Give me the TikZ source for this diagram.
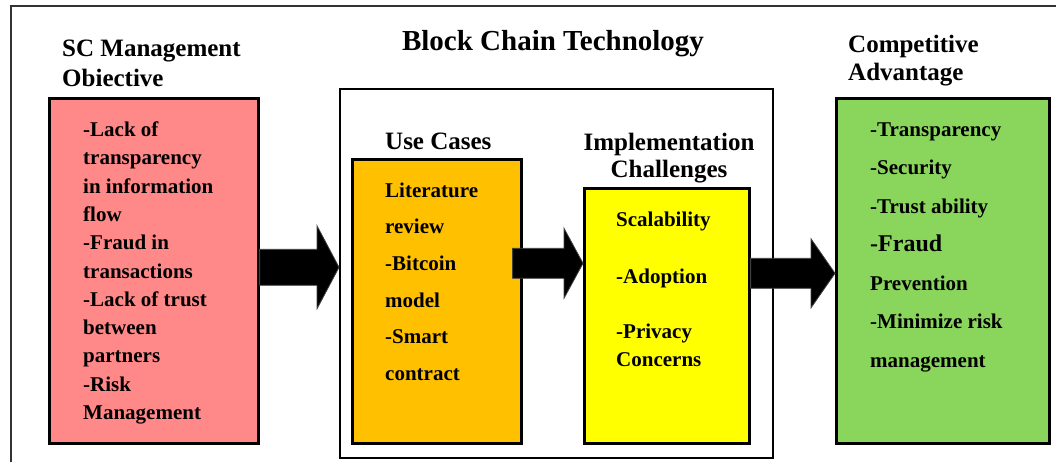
\documentclass[tikz,border=0pt]{standalone}
\usepackage{fontspec}
\setmainfont{Liberation Serif}
\usetikzlibrary{calc}
\definecolor{pinkc}{RGB}{255,136,136}
\definecolor{orangec}{RGB}{255,192,0}
\definecolor{yellowc}{RGB}{255,255,0}
\definecolor{greenc}{RGB}{138,214,92}
\tikzset{
  panel/.style={draw=black, line width=2.6pt, anchor=north west, inner sep=0pt},
  heading/.style={font=\fontsize{25}{30}\selectfont\bfseries, inner sep=0pt, align=left, anchor=base west},
  body/.style={font=\fontsize{21}{28.3}\selectfont\bfseries, inner sep=0pt, align=left, anchor=base west},
  arrowfill/.style={fill=black, draw=black!75, line width=0.8pt, line join=miter}
}
\newcommand{\fatarrow}[5]{%
  \filldraw[arrowfill] ($(#1)+(0,-#3)$) -- ($(#2)+(-#5,-#3)$) -- ($(#2)+(-#5,-#4)$) -- (#2)
    -- ($(#2)+(-#5,#4)$) -- ($(#2)+(-#5,#3)$) -- ($(#1)+(0,#3)$) -- cycle;}
\begin{document}
\begin{tikzpicture}[x=1pt,y=-1pt]
\useasboundingbox (0,0) rectangle (1056,462);
% outer frame (only top and left edges visible)
\draw[line width=2pt, black!80] (1056,6) -- (11,6) -- (11,462);

% boxes
\node[panel, fill=pinkc, minimum width=209pt, minimum height=345pt] (sc) at (48,97) {};
\node[panel, line width=2pt, minimum width=433pt, minimum height=369pt] (bc) at (339,88) {};
\node[panel, fill=orangec, minimum width=169pt, minimum height=284pt] (uc) at (351,158) {};
\node[panel, fill=yellowc, minimum width=165pt, minimum height=255pt] (ic) at (583,187) {};
\node[panel, fill=greenc, minimum width=213pt, minimum height=345pt] (ca) at (835,97) {};

% headings (base anchor = baseline of the last line)
\node[heading, font=\fontsize{25}{30}\selectfont\bfseries] (tsc) at (62,87) {SC Management\\Obiective};
\node[heading, font=\fontsize{29}{34}\selectfont\bfseries, anchor=base] (tbc) at (553,51) {Block Chain Technology};
\node[heading, font=\fontsize{25}{28}\selectfont\bfseries] (tca) at (848,81) {Competitive\\Advantage};
\node[heading] (tuc) at (385,150) {Use Cases};
\node[heading, font=\fontsize{25}{27}\selectfont\bfseries, align=center, anchor=base] (tic) at (669,178) {Implementation\\Challenges};

% body texts
\node[body] (xsc) at (83,419.5) {-Lack of\\transparency\\in information\\flow\\-Fraud in\\transactions\\-Lack of trust\\between\\partners\\-Risk\\Management};
\node[body, font=\fontsize{21}{36.7}\selectfont\bfseries] (xuc) at (385,380.5) {Literature\\review\\-Bitcoin\\model\\-Smart\\contract};
\node[body, font=\fontsize{21}{28.5}\selectfont\bfseries] (xic) at (616,366.5) {Scalability\\[28.5pt]-Adoption\\[26.5pt]-Privacy\\Concerns};
\node[body, font=\fontsize{21}{38.5}\selectfont\bfseries] (xca) at (870,367) {-Transparency\\-Security\\-Trust ability\\{\fontsize{24}{38.5}\selectfont -Fraud}\\Prevention\\-Minimize risk\\management};

% arrows
\coordinate (a1s) at ([yshift=3.5pt]sc.east);
\coordinate (a1e) at (a1s -| bc.west);
\fatarrow{a1s}{a1e}{18}{41.5}{22}
\coordinate (a2s) at ([xshift=-10pt,yshift=38pt]uc.east);
\coordinate (a2e) at (a2s -| ic.west);
\fatarrow{a2s}{a2e}{15}{35}{19}
\coordinate (a3s) at ([yshift=42.5pt]ic.east);
\coordinate (a3e) at (a3s -| ca.west);
\fatarrow{a3s}{a3e}{15}{34.5}{24}
\end{tikzpicture}
\end{document}
